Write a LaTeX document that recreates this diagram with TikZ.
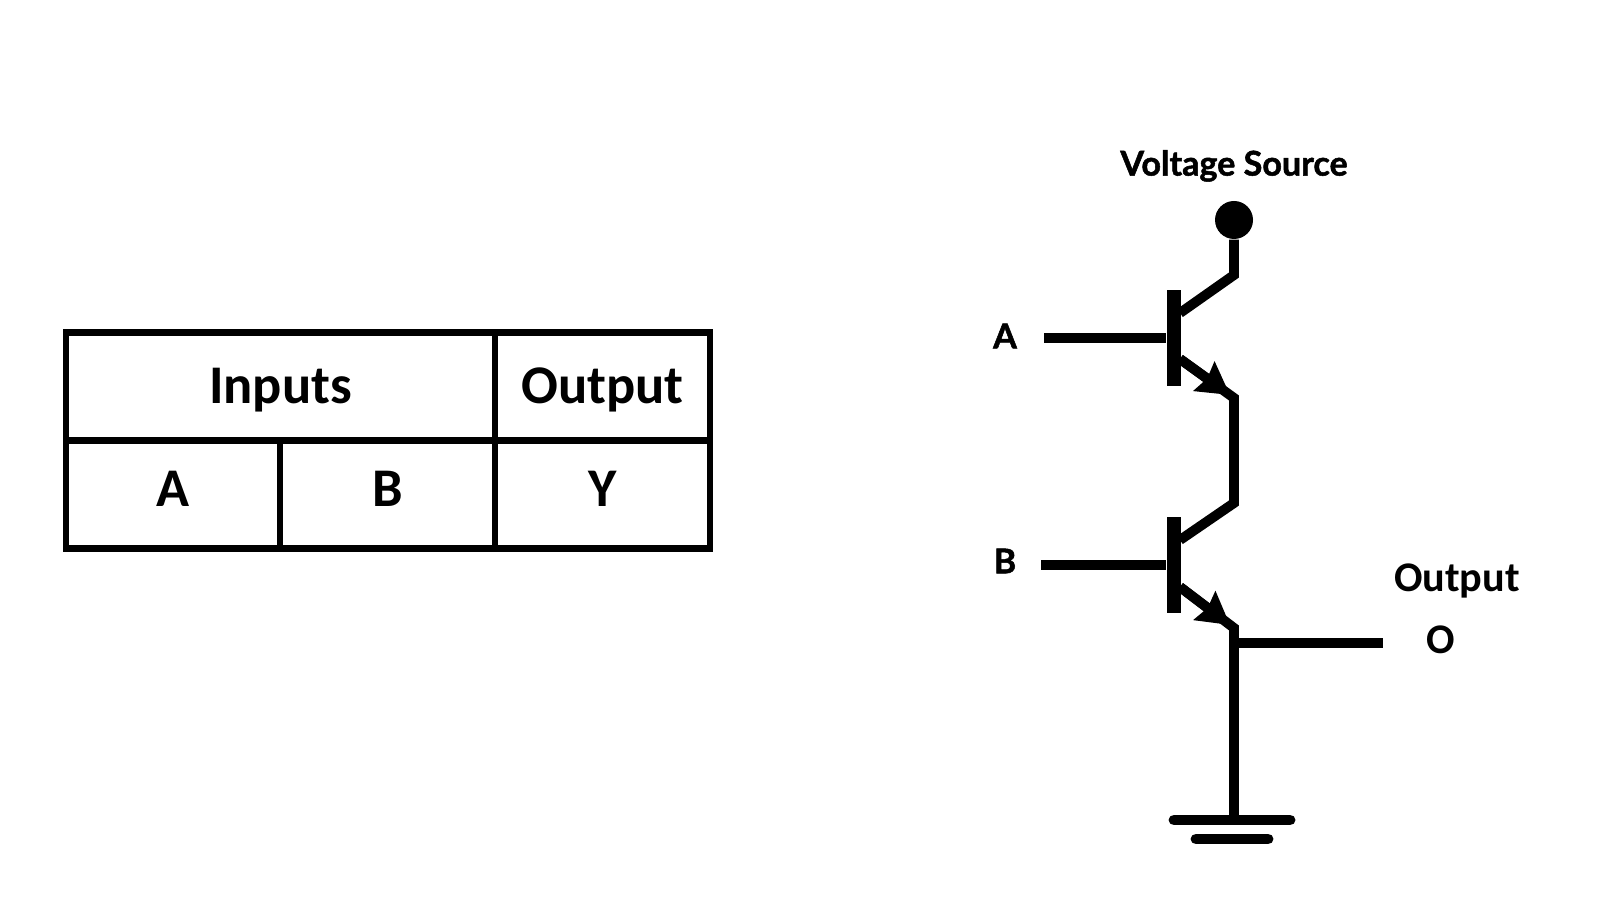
\documentclass[tikz,border=0pt]{standalone}
\usepackage{fontspec}
\setmainfont{Carlito}
\newfontfamily\labelfont[BoldFeatures={FakeBold=1.5}]{Lato}
\usetikzlibrary{arrows.meta}

\begin{document}
\begin{tikzpicture}[
    cell/.style={draw, line width=1.9pt, minimum height=1.08cm, inner sep=0pt, font=\fontsize{15.5}{19}\selectfont\bfseries},
    headcell/.style={cell, text height=11.5pt, text depth=1.7pt},
    subcell/.style={cell, text height=10pt, text depth=3.2pt},
    wire/.style={line width=2.8pt, miter limit=10},
    emit/.style={wire, -{Stealth[length=9pt, width=10pt, inset=1pt]}},
    bar/.style={fill=black, inner sep=0pt, minimum width=0.14cm, minimum height=0.96cm},
    gnd/.style={line width=3.1pt, line cap=round},
    lbl/.style={font=\labelfont\fontsize{9.7}{12}\selectfont\bfseries},
    olbl/.style={font=\fontsize{12}{15}\selectfont\bfseries}
]
\useasboundingbox (0,0) rectangle (16,8.98);

% table
\node[headcell, minimum width=4.29cm] (inputs) at (2.805,5.115) {Inputs};
\node[headcell, minimum width=2.15cm] (output) at (6.025,5.115) {Output};
\node[subcell, minimum width=2.14cm] (cella) at (1.73,4.035) {A};
\node[subcell, minimum width=2.15cm] (cellb) at (3.875,4.035) {B};
\node[subcell, minimum width=2.15cm] (celly) at (6.025,4.035) {Y};

% transistors
\node[circle, fill=black, inner sep=0pt, minimum size=0.38cm] (vcc) at (12.34,6.78) {};
\node[lbl] (vlabel) at (12.34,7.32) {Voltage Source};
\node[bar] (q1) at (11.74,5.60) {};
\node[bar] (q2) at (11.74,3.33) {};
\node[lbl] (la) at (10.05,5.62) {A};
\node[lbl] (lb) at (10.05,3.37) {B};
\node[olbl] (lo) at (14.57,3.17) {Output};
\node[olbl] (lq) at (14.41,2.58) {O};

\coordinate (ina) at (10.44,5.60);
\coordinate (inb) at (10.41,3.33);
\coordinate (c1) at (11.80,5.85);
\coordinate (k1) at (12.34,6.23);
\coordinate (e1) at (11.80,5.39);
\coordinate (t1) at (12.30,5.03);
\coordinate (m1) at (12.34,5.00);
\coordinate (c2) at (11.80,3.58);
\coordinate (k2) at (12.34,3.95);
\coordinate (e2) at (11.80,3.11);
\coordinate (t2) at (12.30,2.73);
\coordinate (m2) at (12.34,2.70);
\coordinate (j) at (12.34,2.55);
\coordinate (q) at (13.83,2.55);
\coordinate (g1a) at (11.74,0.78);
\coordinate (g1b) at (12.90,0.78);
\coordinate (g2a) at (11.96,0.59);
\coordinate (g2b) at (12.68,0.59);
\coordinate (g) at (12.34,0.78);

\draw[wire] (ina) -- (q1.west);
\draw[wire] (inb) -- (q2.west);
\draw[wire] (vcc) -- (k1) -- (c1);
\draw[wire] (e1) -- (m1) -- (k2) -- (c2);
\draw[emit] (e1) -- (t1);
\draw[wire] (e2) -- (m2) -- (g);
\draw[emit] (e2) -- (t2);
\draw[wire] (j) -- (q);

% ground
\draw[gnd] (g1a) -- (g1b);
\draw[gnd] (g2a) -- (g2b);
\end{tikzpicture}
\end{document}
